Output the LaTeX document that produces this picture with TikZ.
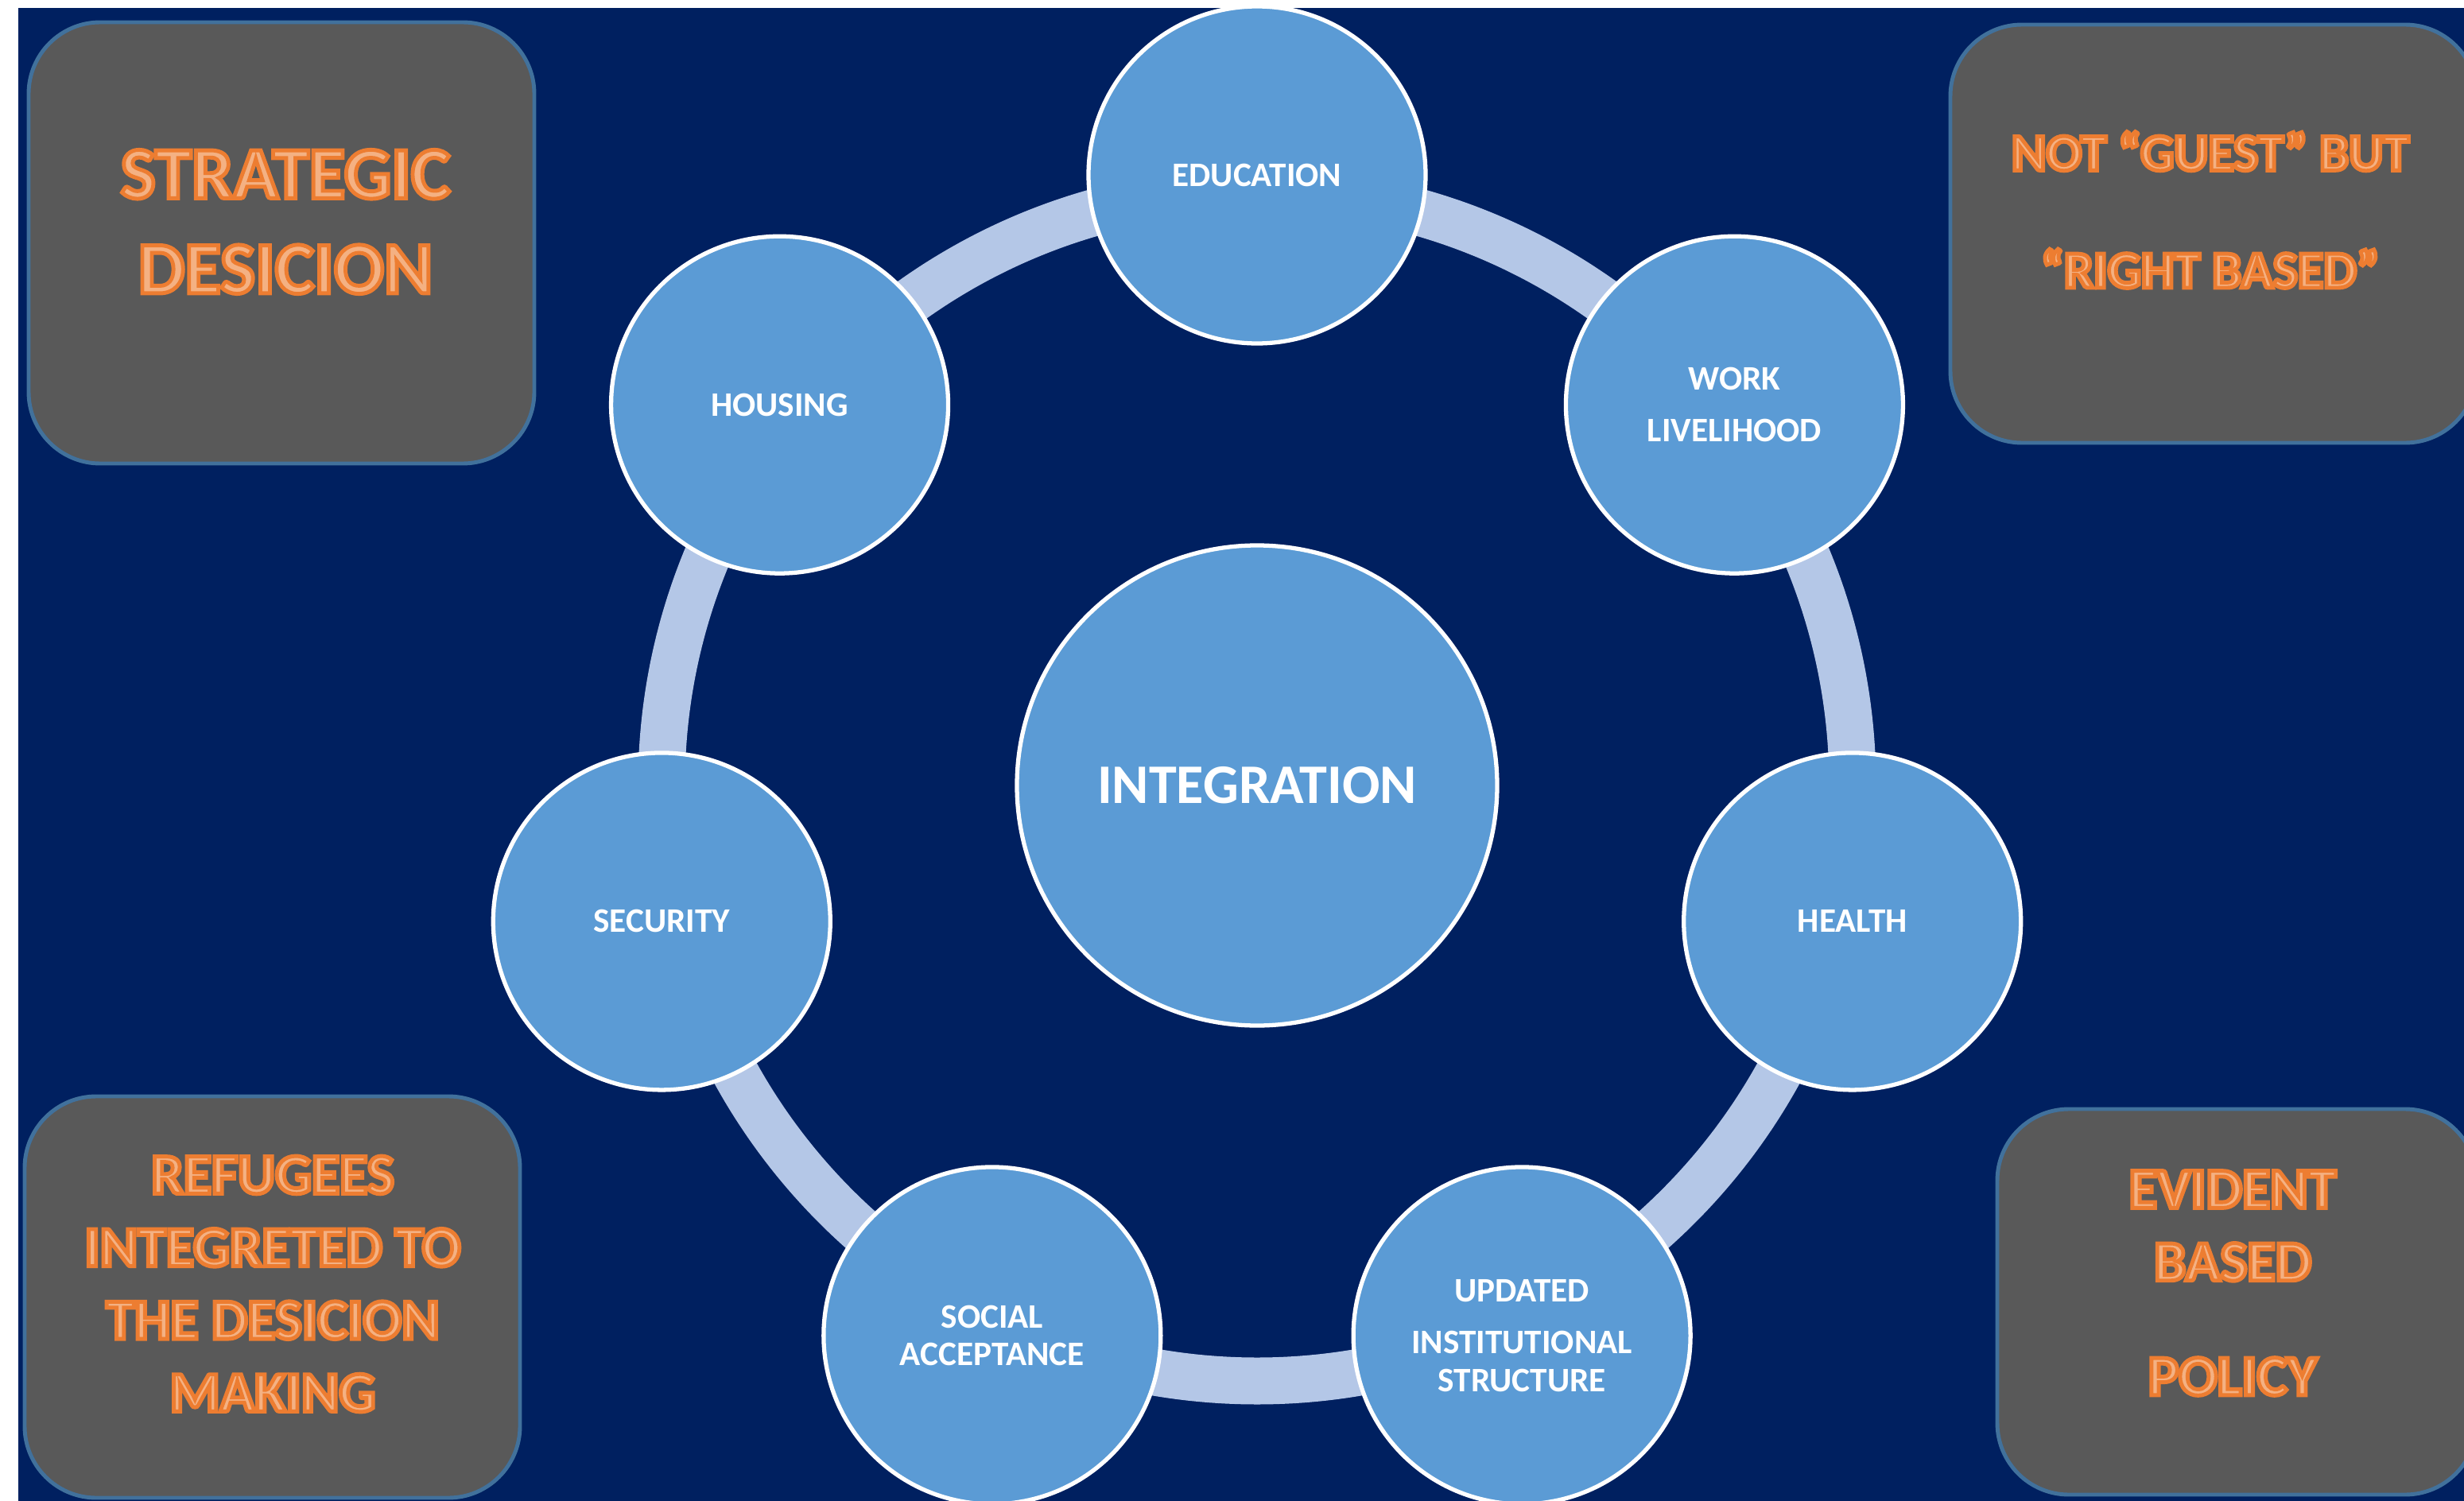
\documentclass[tikz,border=0pt]{standalone}
\usepackage{fontspec}
\setmainfont{Carlito}
\usepackage{xcolor}
\usepackage{tikz}
\usetikzlibrary{calc}
\definecolor{NavyBack}{HTML}{002060}
\definecolor{BubbleBlue}{HTML}{5B9BD5}
\definecolor{RingBlue}{HTML}{B4C7E7}
\definecolor{PanelGrey}{HTML}{595959}
\definecolor{PanelEdge}{HTML}{41719C}
\definecolor{OrangeFill}{HTML}{F4B183}
% orange outlined letters (fill + stroke)
\newcommand{\glowtext}[1]{\textcolor{OrangeFill}{%
  \special{pdf:literal direct 0.929 0.490 0.192 RG 1.4 w 2 Tr}#1%
  \special{pdf:literal direct 0 Tr}}}

\tikzset{
  bubble/.style = {circle, fill=BubbleBlue, draw=white, line width=1.5pt,
    minimum size=4.24cm, inner sep=0pt, text=white, align=center,
    font=\fontsize{12.3}{13.5}\selectfont\bfseries},
  hubnode/.style = {bubble, minimum size=6.04cm,
    font=\fontsize{20}{24}\selectfont\bfseries},
  ring/.style = {draw=RingBlue, line width=0.59cm},
  panel/.style = {draw=PanelEdge, fill=PanelGrey, line width=1.4pt,
    rounded corners=0.9cm, inner sep=0pt},
  paneltext/.style = {align=center, inner sep=0pt}
}

\begin{document}
\begin{tikzpicture}
  \useasboundingbox (0,0) rectangle (30.99,-18.88);
  \clip (0,0) rectangle (30.99,-18.88);
  \fill[white] (0,0) rectangle (30.99,-18.88);
  \fill[NavyBack] (0.23,-0.10) rectangle (30.99,-18.88);

  % ring behind the bubbles
  \coordinate (hub) at (15.81,-9.88);
  \draw[ring] (hub) circle (7.49);

  \node[hubnode] (integ) at (hub) {INTEGRATION};

  \node[bubble] (educ)     at ([shift={(90:7.68)}]hub)     {EDUCATION};
  \node[bubble] (work)     at ([shift={(38.57:7.68)}]hub)  {WORK\\[5pt]LIVELIHOOD};
  \node[bubble] (health)   at ([shift={(-12.86:7.68)}]hub) {HEALTH};
  \node[bubble] (updated)  at ([shift={(-64.29:7.68)}]hub) {UPDATED\\[5pt]INSTITUTIONAL\\STRUCTURE};
  \node[bubble] (social)   at ([shift={(-115.71:7.68)}]hub) {SOCIAL\\ACCEPTANCE};
  \node[bubble] (security) at ([shift={(-167.14:7.68)}]hub) {SECURITY};
  \node[bubble] (housing)  at ([shift={(141.43:7.68)}]hub) {HOUSING};

  % corner panels
  \node[panel, minimum width=6.36cm, minimum height=5.55cm] (strat) at (3.54,-3.055) {};
  \node[paneltext, font=\fontsize{26.5}{34}\selectfont\bfseries] (strattext)
    at (3.59,-2.79) {\glowtext{STRATEGIC}\\\glowtext{DESICION}};

  \node[panel, minimum width=6.62cm, minimum height=5.26cm] (guest) at (27.84,-2.94) {};
  \node[paneltext, font=\fontsize{18.8}{42}\selectfont\bfseries] (guesttext)
    at (27.80,-2.64) {\glowtext{NOT “GUEST” BUT}\\\glowtext{“RIGHT BASED”}};

  \node[panel, minimum width=6.23cm, minimum height=5.05cm] (refug) at (3.425,-16.315) {};
  \node[paneltext, font=\fontsize{20.5}{26}\selectfont\bfseries] (refugtext)
    at (3.43,-16.15) {\glowtext{REFUGEES}\\\glowtext{INTEGRETED TO}\\\glowtext{THE DESICION}\\\glowtext{MAKING}};

  \node[panel, minimum width=6.03cm, minimum height=4.85cm] (policy) at (28.135,-16.375) {};
  \node[paneltext, font=\fontsize{20.5}{26}\selectfont\bfseries] (policytext)
    at (28.08,-16.14) {\glowtext{EVIDENT}\\\glowtext{BASED}\\[15pt]\glowtext{POLICY}};
\end{tikzpicture}
\end{document}
